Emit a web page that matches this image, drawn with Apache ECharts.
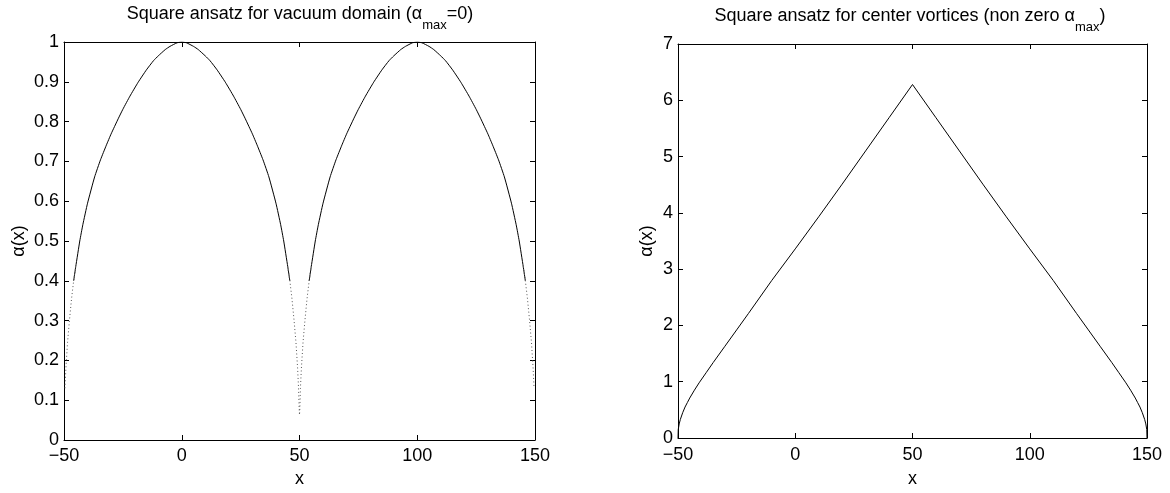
<!DOCTYPE html>
<html>
<head>
<meta charset="utf-8">
<script src="https://cdn.jsdelivr.net/npm/echarts/dist/echarts.min.js"></script>
<style>html,body{margin:0;padding:0;background:#fff;}#c{width:1170px;height:493px;}</style>
</head>
<body>
<div id="c"></div>
<script>
// ---- data ----
var xTicks = [-50, 0, 50, 100, 150];
var leftYTicks = [0, 0.1, 0.2, 0.3, 0.4, 0.5, 0.6, 0.7, 0.8, 0.9, 1];
var rightYTicks = [0, 1, 2, 3, 4, 5, 6, 7];

var vacuumX = [
  -49.6, -49.2, -48.5, -47.7, -46.8, -45.9, -45, -43.3, -42, -40, -37, -34.5, -32, -30, -27, -25, -22, -18.5, -15, -12, -10, -7, -5, -2,
  0, 2, 5, 7, 10, 12, 15, 18.5, 22, 25, 27, 30, 32, 34.5, 37, 40, 42, 43.3, 45, 45.9, 46.8, 47.7, 48.5, 49.2, 49.6, 49.85,
  50,
  50.15, 50.4, 50.8, 51.5, 52.3, 53.2, 54.1, 55, 56.7, 58, 60, 63, 65.5, 68, 70, 73, 75, 78, 81.5, 85, 88, 90, 93, 95, 98,
  100, 102, 105, 107, 110, 112, 115, 118.5, 122, 125, 127, 130, 132, 134.5, 137, 140, 142, 143.3, 145, 145.9, 146.8, 147.7, 148.5, 149.2, 149.6
];
var vacuumY = [
  0.13, 0.18, 0.245, 0.3, 0.355, 0.4, 0.436, 0.5, 0.541, 0.595, 0.661, 0.704, 0.741, 0.769, 0.807, 0.831, 0.864, 0.899, 0.93, 0.953, 0.965, 0.981, 0.989, 0.998,
  1, 0.998, 0.989, 0.981, 0.965, 0.953, 0.93, 0.899, 0.864, 0.831, 0.807, 0.769, 0.741, 0.704, 0.661, 0.595, 0.541, 0.5, 0.436, 0.4, 0.355, 0.3, 0.245, 0.18, 0.13, 0.08,
  0.063,
  0.08, 0.13, 0.18, 0.245, 0.3, 0.355, 0.4, 0.436, 0.5, 0.541, 0.595, 0.661, 0.704, 0.741, 0.769, 0.807, 0.831, 0.864, 0.899, 0.93, 0.953, 0.965, 0.981, 0.989, 0.998,
  1, 0.998, 0.989, 0.981, 0.965, 0.953, 0.93, 0.899, 0.864, 0.831, 0.807, 0.769, 0.741, 0.704, 0.661, 0.595, 0.541, 0.5, 0.436, 0.4, 0.355, 0.3, 0.245, 0.18, 0.13
];

var vortexX = [
  -50, -49.9, -49.5, -49, -48, -47, -46, -45, -43, -41, -38, -35, -30, -25, -20, -10, 0, 10, 20, 30, 40, 50,
  60, 70, 80, 90, 100, 110, 120, 125, 130, 135, 138, 141, 143, 145, 146, 147, 148, 149, 149.5, 149.9, 150
];
var vortexY = [
  0, 0.15, 0.25, 0.33, 0.45, 0.55, 0.63, 0.71, 0.85, 0.98, 1.16, 1.34, 1.63, 1.92, 2.21, 2.8, 3.36, 3.93, 4.51, 5.1, 5.69, 6.28,
  5.69, 5.1, 4.51, 3.93, 3.36, 2.8, 2.21, 1.92, 1.63, 1.34, 1.16, 0.98, 0.85, 0.71, 0.63, 0.55, 0.45, 0.33, 0.25, 0.15, 0
];

// ---- build series data ----
function pairs(xs, ys, keep) {
  return xs.map(function (x, i) { return keep(ys[i]) ? [x, ys[i]] : [x, null]; });
}
var vacSolid = pairs(vacuumX, vacuumY, function (y) { return y >= 0.4; });
var vacDotted = pairs(vacuumX, vacuumY, function (y) { return y <= 0.436; });
var vortex = vortexX.map(function (x, i) { return [x, vortexY[i]]; });

var FONT = 'Liberation Sans, Arial, Helvetica, sans-serif';
var black = '#000';
function minusFmt(v) { return String(v).replace('-', '\u2212'); }

function xAxisPair(gi, labelMargin, nameGap) {
  var base = {
    gridIndex: gi, type: 'value', min: xTicks[0], max: xTicks[xTicks.length - 1],
    interval: xTicks[1] - xTicks[0],
    axisLine: { show: true, onZero: false, lineStyle: { color: black, width: 1 } },
    axisTick: { show: true, inside: true, length: 5, lineStyle: { color: black } },
    splitLine: { show: false }
  };
  var bottom = Object.assign({}, base, {
    position: 'bottom',
    name: 'x', nameLocation: 'middle', nameGap: nameGap,
    nameTextStyle: { fontFamily: FONT, fontSize: 18, color: black },
    axisLabel: { fontFamily: FONT, fontSize: 18, color: black, margin: labelMargin, formatter: minusFmt }
  });
  var top = Object.assign({}, base, { position: 'top', axisLabel: { show: false } });
  return [bottom, top];
}
function yAxisPair(gi, ticks, gap) {
  var base = {
    gridIndex: gi, type: 'value', min: ticks[0], max: ticks[ticks.length - 1],
    interval: Math.round((ticks[1] - ticks[0]) * 1000) / 1000,
    axisLine: { show: true, onZero: false, lineStyle: { color: black, width: 1 } },
    axisTick: { show: true, inside: true, length: 5, lineStyle: { color: black } },
    splitLine: { show: false }
  };
  var left = Object.assign({}, base, {
    position: 'left',
    name: '\u03B1(x)', nameLocation: 'middle', nameGap: gap,
    nameTextStyle: { fontFamily: FONT, fontSize: 18, color: black },
    axisLabel: { fontFamily: FONT, fontSize: 18, color: black, margin: 5,
      formatter: function (v) { return String(Math.round(v * 10) / 10); } }
  });
  var right = Object.assign({}, base, { position: 'right', axisLabel: { show: false } });
  return [left, right];
}

var xa0 = xAxisPair(0, 7, 30), xa1 = xAxisPair(1, 8, 32);
var ya0 = yAxisPair(0, leftYTicks, 36), ya1 = yAxisPair(1, rightYTicks, 22);

function titleRich(pre, sub, post) {
  return '{a|' + pre + '}{s|' + sub + '}{a|' + post + '}';
}
var titleRichStyles = {
  a: { fontFamily: FONT, fontSize: 18, fontWeight: 'normal', color: black, lineHeight: 20, verticalAlign: 'top' },
  s: { fontFamily: FONT, fontSize: 13, fontWeight: 'normal', color: black, lineHeight: 20, verticalAlign: 'top', padding: [14, 0, 0, 0] }
};

var chart = echarts.init(document.getElementById('c'), null, { renderer: 'canvas' });
chart.setOption({
  animation: false,
  backgroundColor: '#fff',
  title: [
    { text: titleRich('Square ansatz for vacuum domain (\u03B1', 'max', '=0)'), left: 300, top: 5, padding: 0, textAlign: 'center',
      textStyle: { fontWeight: 'normal', rich: titleRichStyles } },
    { text: titleRich('Square ansatz for center vortices (non zero \u03B1', 'max', ')'), left: 910, top: 7, padding: 0, textAlign: 'center',
      textStyle: { fontWeight: 'normal', rich: titleRichStyles } }
  ],
  grid: [
    { left: 64, right: 635, top: 42, bottom: 53, containLabel: false },
    { left: 678, right: 23, top: 44, bottom: 47, containLabel: false }
  ],
  xAxis: [xa0[0], xa0[1], xa1[0], xa1[1]],
  yAxis: [ya0[0], ya0[1], ya1[0], ya1[1]],
  series: [
    { type: 'line', xAxisIndex: 0, yAxisIndex: 0, data: vacSolid, showSymbol: false, connectNulls: false, smooth: 0.15,
      lineStyle: { color: black, width: 1 } },
    { type: 'line', xAxisIndex: 0, yAxisIndex: 0, data: vacDotted, showSymbol: false, connectNulls: false,
      lineStyle: { color: '#555', width: 1, type: [1, 2.5] } },
    { type: 'line', xAxisIndex: 2, yAxisIndex: 2, data: vortex, showSymbol: false,
      lineStyle: { color: black, width: 1 } }
  ]
});
</script>
</body>
</html>
